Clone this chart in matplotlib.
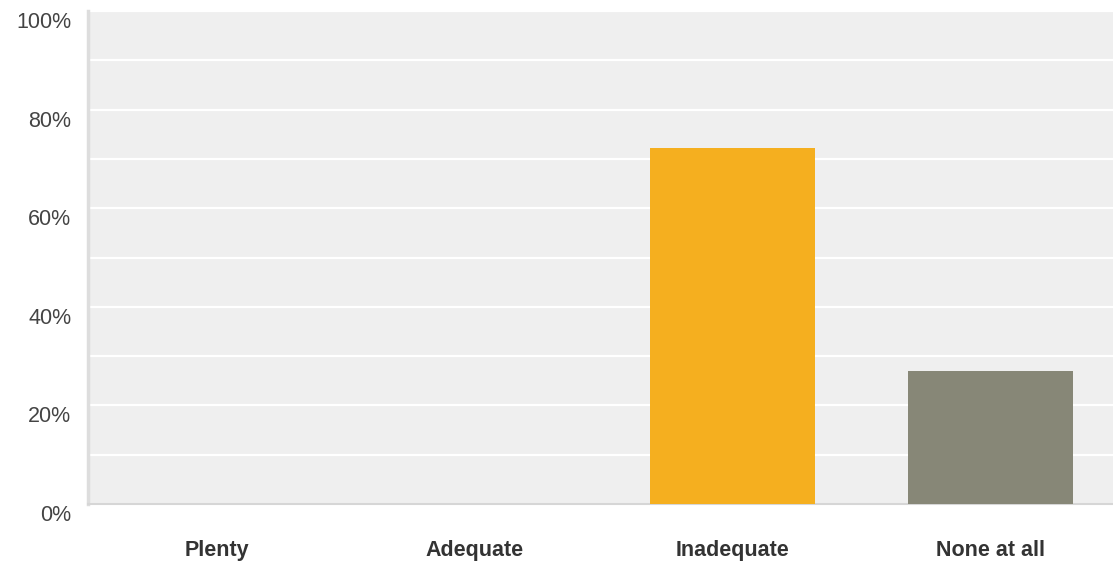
import matplotlib.pyplot as plt
import matplotlib.transforms as mtransforms
from matplotlib.ticker import MultipleLocator, FuncFormatter

categories = ["Plenty", "Adequate", "Inadequate", "None at all"]
values = [0, 0, 72.2, 27.0]
bar_colors = ["#f5af1f", "#f5af1f", "#f5af1f", "#878777"]

plt.rcParams['font.family'] = ['Liberation Sans', 'DejaVu Sans']

W, H = 1113, 561
fig = plt.figure(figsize=(W / 100, H / 100), dpi=100)
ax = fig.add_axes([88 / W, (H - 504) / H, 1031 / W, 493 / H])
ax.set_facecolor("#efefef")

x = range(len(categories))
ax.bar(x, values, width=0.64, color=bar_colors, zorder=3)

ax.set_xlim(-0.5, 3.5)
ax.set_ylim(0, 100)
ax.yaxis.set_major_locator(MultipleLocator(20))
ax.yaxis.set_minor_locator(MultipleLocator(10))
ax.yaxis.set_major_formatter(FuncFormatter(lambda v, p: f"{v:.0f}%"))
ax.grid(axis="y", which="both", color="white", linewidth=1.6, zorder=1)
ax.set_axisbelow(True)

ax.set_xticks(list(x))
ax.set_xticklabels(categories, fontsize=15.5, fontweight="bold", color="#333333")
ax.tick_params(axis="x", length=0, pad=26)
ax.tick_params(axis="y", which="both", length=0, pad=12, labelsize=15.5, labelcolor="#444444")

# y labels sit a bit below their gridlines in the original
shift = mtransforms.ScaledTranslation(0, -9 / 100, fig.dpi_scale_trans)
for lbl in ax.get_yticklabels():
    lbl.set_transform(lbl.get_transform() + shift)

for s in ["top", "right"]:
    ax.spines[s].set_visible(False)
ax.spines["left"].set_color("#dddddd")
ax.spines["left"].set_linewidth(2.5)
ax.spines["bottom"].set_color("#d6d6d6")
ax.spines["bottom"].set_linewidth(1.5)

fig.savefig("out.png", dpi=100)
